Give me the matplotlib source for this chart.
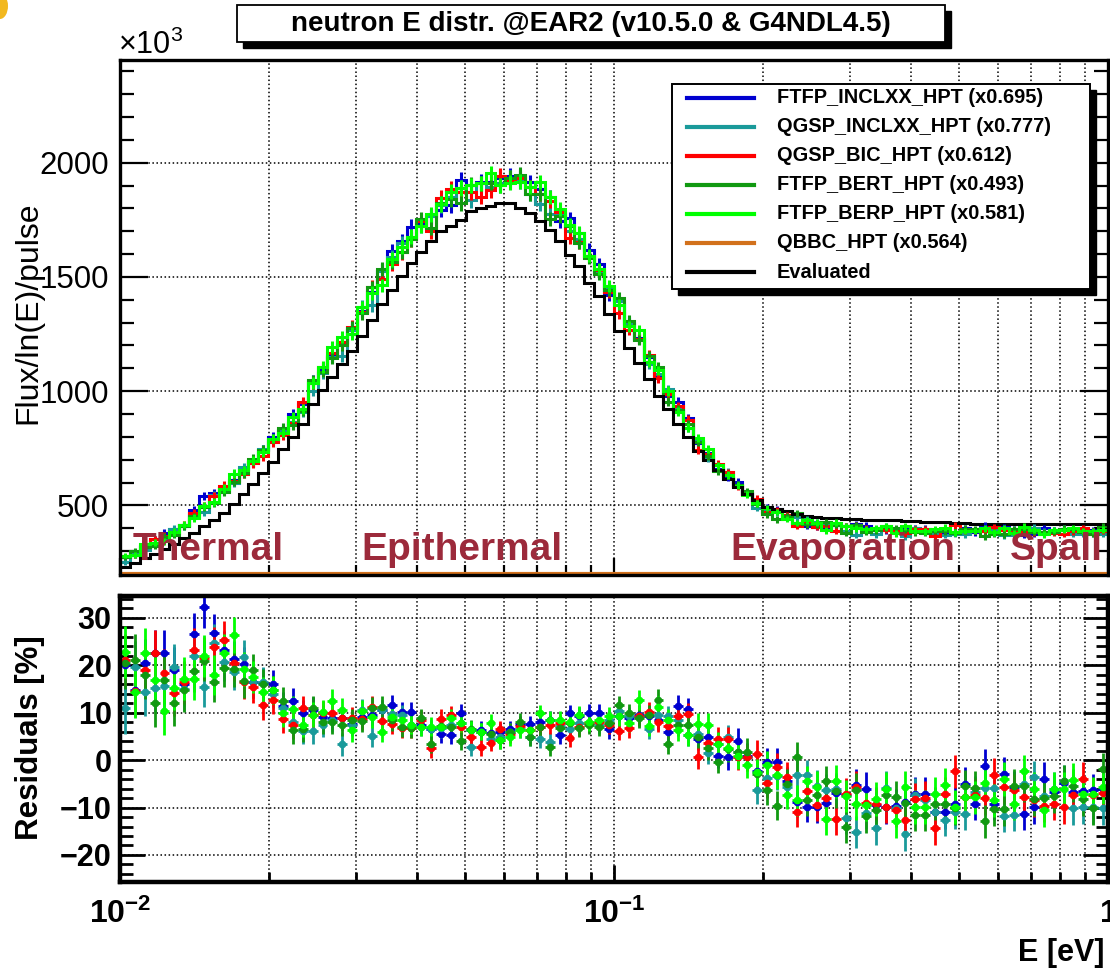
import numpy as np
import matplotlib
matplotlib.use('Agg')
import matplotlib.pyplot as plt
from matplotlib.lines import Line2D
from matplotlib.patches import Rectangle, Ellipse
from matplotlib.ticker import FixedLocator, MultipleLocator, NullFormatter

plt.rcParams['font.family'] = ['Liberation Sans', 'DejaVu Sans']
plt.rcParams['mathtext.fontset'] = 'custom'
plt.rcParams['mathtext.rm'] = 'Liberation Sans'
plt.rcParams['mathtext.bf'] = 'Liberation Sans:bold'
plt.rcParams['mathtext.it'] = 'Liberation Sans:italic'

# ---- data (flux in units of 10^3, residuals in %) ----
edges = np.logspace(-2, 0, 101)

evaluated = [228, 248, 268, 288, 310, 332, 355, 380, 408, 437,
             468, 505, 548, 592, 640, 690, 745, 800, 858, 945,
             1005, 1060, 1118, 1178, 1240, 1310, 1380, 1445, 1505, 1560,
             1610, 1658, 1700, 1722, 1751, 1787, 1802, 1812, 1824, 1824,
             1802, 1780, 1744, 1707, 1656, 1598, 1547, 1474, 1416, 1336,
             1263, 1190, 1125, 1052, 980, 922, 856, 798, 740, 697,
             653, 617, 580, 551, 522, 493, 486, 475, 462, 455,
             450, 446, 443, 441, 439, 437, 436, 435, 434, 433,
             431, 429, 427, 425, 423, 421, 420, 419, 418, 417,
             417, 417, 417, 417, 417, 417, 417, 417, 417, 417]

qbbc_flux = [0.0] * 100  # QBBC histogram sits at zero (below the visible range)

res_err = [5.5, 5.5, 5.2, 5.0, 5.0, 4.8, 4.6, 4.5, 4.4, 4.2,
           4.0, 3.8, 3.6, 3.4, 3.2, 3.0, 2.9, 2.8, 2.7, 2.6,
           2.5, 2.5, 2.4, 2.4, 2.3, 2.3, 2.2, 2.2, 2.1, 2.1,
           2.0, 2.0, 2.0, 1.9, 1.9, 1.9, 1.8, 1.8, 1.8, 1.8,
           1.8, 1.8, 1.8, 1.8, 1.8, 1.8, 1.9, 1.9, 1.9, 2.0,
           2.0, 2.0, 2.1, 2.1, 2.2, 2.2, 2.3, 2.3, 2.4, 2.5,
           2.5, 2.6, 2.7, 2.8, 2.9, 3.0, 3.0, 3.1, 3.2, 3.2,
           3.3, 3.3, 3.4, 3.4, 3.4, 3.5, 3.5, 3.5, 3.5, 3.5,
           3.5, 3.5, 3.5, 3.5, 3.5, 3.5, 3.5, 3.5, 3.5, 3.5,
           3.5, 3.5, 3.5, 3.5, 3.5, 3.5, 3.5, 3.5, 3.5, 3.5]

res_ftfp_inclxx = [20.0, 14.8, 20.4, 22.5, 22.5, 19.0, 16.0, 26.5, 32.3, 26.7,
                   23.3, 21.4, 20.2, 16.4, 16.2, 16.0, 11.5, 12.5, 10.0, 10.6,
                   9.1, 8.8, 8.8, 7.7, 9.0, 9.5, 10.5, 11.6, 10.2, 10.2,
                   7.5, 6.5, 5.6, 5.3, 10.0, 6.4, 6.4, 5.8, 6.0, 6.5,
                   7.6, 7.6, 8.1, 8.5, 5.3, 9.9, 9.3, 9.9, 9.9, 6.5,
                   9.2, 8.8, 9.5, 9.3, 8.5, 6.0, 11.4, 10.7, 4.5, 4.8,
                   0.9, 0.6, 4.1, 0.9, -2.2, -0.5, -0.5, -4.5, -8.9, -9.9,
                   -9.9, -9.0, -7.0, -7.3, -5.2, -6.0, -9.5, -9.9, -9.6, -8.9,
                   -7.1, -7.1, -11.0, -11.0, -9.2, -5.0, -9.2, -1.2, -9.2, -2.9,
                   -5.7, -11.3, -9.9, -4.0, -6.8, -4.8, -6.8, -6.6, -6.4, -6.1]

res_qgsp_inclxx = [11.0, 19.7, 14.4, 15.1, 15.7, 19.7, 15.0, 22.0, 15.5, 24.6,
                   20.7, 18.5, 21.8, 16.4, 16.4, 14.0, 10.9, 8.1, 6.1, 6.1,
                   7.4, 8.5, 3.3, 7.5, 10.5, 5.1, 10.5, 9.8, 9.5, 7.5,
                   7.0, 6.5, 6.7, 7.5, 7.9, 2.8, 6.0, 4.4, 4.8, 6.0,
                   6.5, 4.8, 4.4, 3.9, 7.1, 6.5, 7.8, 7.9, 7.4, 8.5,
                   10.4, 9.2, 9.2, 6.5, 9.5, 9.3, 8.5, 5.3, 5.5, 1.6,
                   3.4, 4.9, 1.8, 0.6, -6.3, -3.8, -3.3, -5.7, -3.1, -3.1,
                   -5.4, -6.2, -6.1, -12.2, -15.2, -11.1, -14.3, -5.9, -10.0, -15.6,
                   -7.3, -8.5, -11.0, -12.6, -11.0, -11.3, -6.8, -5.9, -5.9, -11.7,
                   -11.5, -5.0, -3.6, -7.6, -6.1, -4.5, -10.1, -9.9, -9.9, -10.1]

res_qgsp_bic = [21.1, 14.5, 19.0, 22.5, 18.4, 14.1, 16.4, 23.3, 21.5, 23.8,
                25.4, 20.4, 16.5, 15.5, 11.6, 12.7, 8.7, 7.3, 10.9, 9.5,
                9.9, 9.9, 8.8, 8.9, 8.7, 11.3, 8.2, 7.7, 6.8, 6.8,
                8.5, 2.5, 8.7, 9.5, 7.0, 4.8, 2.7, 3.7, 6.5, 5.5,
                7.2, 6.4, 6.9, 7.4, 7.8, 4.6, 6.9, 7.9, 8.1, 7.4,
                6.2, 6.7, 9.2, 10.2, 8.1, 7.1, 9.2, 9.7, 0.6, 3.7,
                4.4, 4.4, 0.6, 0.6, 1.3, -4.9, -1.4, -3.6, -11.0, -6.5,
                -9.5, -8.0, -12.4, -7.2, -5.7, -9.0, -9.2, -9.8, -10.6, -12.6,
                -8.3, -8.0, -14.3, -7.1, -2.4, -7.8, -7.3, -8.0, -3.1, -5.7,
                -6.4, -7.8, -8.5, -9.6, -9.2, -9.9, -7.3, -4.0, -7.3, -6.9]

res_ftfp_bert = [20.4, 21.1, 18.0, 12.0, 16.9, 12.0, 14.8, 18.8, 21.0, 16.5,
                 19.5, 19.2, 16.7, 19.0, 16.0, 14.8, 12.5, 6.3, 6.5, 10.9,
                 8.0, 8.0, 7.4, 8.4, 8.2, 11.0, 11.3, 8.4, 7.0, 6.8,
                 8.8, 3.5, 7.2, 6.9, 4.1, 6.5, 6.0, 5.5, 4.2, 6.0,
                 8.1, 4.8, 6.9, 2.7, 6.7, 7.8, 6.7, 7.4, 6.9, 7.9,
                 11.6, 9.9, 8.8, 9.5, 12.7, 3.5, 7.4, 7.4, 4.9, 2.5,
                 -0.3, 2.3, 1.8, 1.8, -2.9, -6.4, -9.6, -5.0, 0.6, -8.5,
                 -7.3, -4.5, -6.6, -14.0, -6.2, -11.8, -10.5, -7.3, -7.8, -9.0,
                 -11.5, -11.5, -9.2, -9.2, -10.1, -5.5, -5.9, -12.9, -10.3, -10.4,
                 -5.4, -5.4, -8.2, -8.0, -7.6, -4.5, -5.4, -8.2, -10.1, -1.9]

res_ftfp_berp = [22.8, 14.4, 22.6, 16.9, 10.3, 15.3, 17.2, 17.2, 22.0, 18.0,
                 22.5, 26.3, 19.2, 17.6, 14.4, 14.8, 9.9, 10.8, 7.5, 9.6,
                 10.1, 12.5, 10.6, 6.3, 10.3, 9.1, 6.0, 9.1, 8.4, 7.5,
                 7.0, 7.0, 7.0, 8.8, 7.9, 6.4, 6.0, 7.9, 4.2, 4.8,
                 6.4, 6.4, 9.9, 8.5, 8.5, 8.1, 9.5, 8.1, 8.5, 9.2,
                 9.2, 7.9, 12.7, 7.1, 11.3, 8.5, 6.4, 5.3, 7.6, 7.4,
                 3.4, 2.5, 0.9, -1.0, -2.6, -1.0, -3.1, -7.3, -8.5, -4.5,
                 -5.7, -12.4, -4.5, -7.6, -9.2, -9.4, -8.2, -6.1, -12.9, -5.7,
                 -9.9, -9.9, -7.1, -5.2, -9.9, -7.8, -7.8, -4.8, -8.5, -4.0,
                 -9.2, -2.4, -6.1, -10.6, -6.1, -6.1, -4.1, -7.1, -7.1, -5.7]

model_names = ['FTFP_INCLXX_HPT (x0.695)', 'QGSP_INCLXX_HPT (x0.777)', 'QGSP_BIC_HPT (x0.612)',
               'FTFP_BERT_HPT (x0.493)', 'FTFP_BERP_HPT (x0.581)', 'QBBC_HPT (x0.564)', 'Evaluated']
model_colors = ['#0000d0', '#1a9a9a', '#ff0000', '#119911', '#00ff00', '#d2711c', '#000000']
residuals = [res_ftfp_inclxx, res_qgsp_inclxx, res_qgsp_bic, res_ftfp_bert, res_ftfp_berp]

regions = ['Thermal', 'Epithermal', 'Evaporation', 'Spall']
region_x = [0.0106, 0.0308, 0.172, 0.634]

# ---- figure ----
W, H = 1110, 971
fig = plt.figure(figsize=(W / 100, H / 100), dpi=100)
ax1 = fig.add_axes([120 / W, 1 - 575 / H, 988 / W, 515 / H])
ax2 = fig.add_axes([120 / W, 1 - 882 / H, 988 / W, 286 / H])

ev = np.array(evaluated)
err = np.array(res_err)
centers = np.sqrt(edges[:-1] * edges[1:])
xlo = centers - edges[:-1]
xhi = edges[1:] - centers
ymin1, ymax1 = 195, 2450

for res, col in zip(residuals, model_colors[:5]):
    r = np.array(res)
    flux = ev * (1 + r / 100)
    ax1.stairs(flux, edges, color=col, lw=2.2, baseline=None)
    ax1.errorbar(centers, flux, yerr=ev * err / 100, fmt='none', ecolor=col, elinewidth=2.2)
    ax2.errorbar(centers, r, xerr=[xlo, xhi], yerr=err, fmt='o', ms=4.5, color=col,
                 mec=col, elinewidth=2.0, capsize=0)

ax1.stairs(np.clip(qbbc_flux, ymin1 + 4, None), edges, color=model_colors[5], lw=3, baseline=None)
ax1.stairs(ev, edges, color='k', lw=2.2, baseline=None)

# ---- axes styling ----
for ax in (ax1, ax2):
    ax.set_xscale('log')
    ax.set_xlim(0.01, 1)
    ax.xaxis.set_major_locator(FixedLocator([0.01, 0.1, 1]))
    ax.xaxis.set_minor_locator(FixedLocator([m * d for d in (0.01, 0.1) for m in range(2, 10)]))
    ax.xaxis.set_minor_formatter(NullFormatter())
    ax.grid(True, which='both', axis='x', ls=':', color='k', lw=1.1)
    ax.grid(True, which='major', axis='y', ls=':', color='k', lw=1.1)
    ax.set_axisbelow(True)
    ax.tick_params(which='both', direction='in', right=True, top=False, colors='k')

ax1.set_ylim(ymin1, ymax1)
ax1.yaxis.set_major_locator(MultipleLocator(500))
ax1.yaxis.set_minor_locator(MultipleLocator(100))
ax1.set_xticklabels([])
ax1.tick_params(axis='y', which='major', length=20, width=1.6, labelsize=22.5, pad=8)
ax1.tick_params(axis='y', which='minor', length=10, width=1.6)
ax1.tick_params(axis='x', which='major', length=12, width=1.6)
ax1.tick_params(axis='x', which='minor', length=7, width=1.6)
for s in ax1.spines.values():
    s.set_linewidth(2.4)

ax2.set_ylim(-25.7, 34.6)
ax2.yaxis.set_major_locator(MultipleLocator(10))
ax2.yaxis.set_minor_locator(MultipleLocator(2))
ax2.set_yticks([-20, -10, 0, 10, 20, 30])
ax2.set_yticklabels(['\u221220', '\u221210', '0', '10', '20', '30'], fontweight='bold', fontsize=22)
ax2.set_xticklabels([r'$\mathbf{10^{-2}}$', r'$\mathbf{10^{-1}}$', r'$\mathbf{1}$'], fontsize=23)
ax2.tick_params(axis='y', which='major', length=18, width=2.0, pad=6)
ax2.tick_params(axis='y', which='minor', length=9, width=2.0)
ax2.tick_params(axis='x', which='major', length=12, width=2.0, pad=12)
ax2.tick_params(axis='x', which='minor', length=7, width=2.0)
for s in ax2.spines.values():
    s.set_linewidth(3.2)

# ---- labels ----
fig.text(28 / W, 1 - 313 / H, 'Flux/ln(E)/pulse', rotation=90, ha='center', va='center', fontsize=23)
fig.text(118 / W, 1 - 45 / H, r'$\times10^{3}$', ha='left', va='center', fontsize=22)
fig.text(30 / W, 1 - 738 / H, 'Residuals [%]', rotation=90, ha='center', va='center',
         fontsize=22.5, fontweight='bold')
fig.text(1105 / W, 1 - 953 / H, 'E [eV]', ha='right', va='center', fontsize=22, fontweight='bold')

for lab, xr in zip(regions, region_x):
    ax1.text(xr, 260, lab, ha='left', va='baseline', fontsize=28, fontweight='bold',
             color='#9c2a3b', clip_on=False, zorder=5)

# small yellow mark in the top-left corner
fig.add_artist(Ellipse((0, 1 - 6 / H), 16 / W, 26 / H, transform=fig.transFigure,
                       facecolor='#f2b81f', edgecolor='none'))

# title box with shadow
fig.add_artist(Rectangle((243 / W, 1 - 48 / H), 708 / W, 37 / H, transform=fig.transFigure,
                         facecolor='k', edgecolor='k', zorder=1))
fig.add_artist(Rectangle((237 / W, 1 - 42 / H), 708 / W, 37 / H, transform=fig.transFigure,
                         facecolor='white', edgecolor='k', lw=1.3, zorder=2))
fig.text(591 / W, 1 - 24 / H, 'neutron E distr. @EAR2 (v10.5.0 & G4NDL4.5)', ha='center', va='center',
         fontsize=20, fontweight='bold', zorder=3)

# legend box (ROOT style, drawn in figure pixels) with solid shadow
lx0, ly0, lx1, ly1 = 672, 84, 1090, 289
fig.add_artist(Rectangle(((lx0 + 6) / W, 1 - (ly1 + 6) / H), (lx1 - lx0) / W, (ly1 - ly0) / H,
                         transform=fig.transFigure, facecolor='k', edgecolor='k', zorder=20))
fig.add_artist(Rectangle((lx0 / W, 1 - ly1 / H), (lx1 - lx0) / W, (ly1 - ly0) / H,
                         transform=fig.transFigure, facecolor='white', edgecolor='k', lw=1.4, zorder=21))
for i, (nm, col) in enumerate(zip(model_names, model_colors)):
    yy = 1 - (97.7 + 29.05 * i) / H
    fig.add_artist(Line2D([687 / W, 754 / W], [yy, yy], transform=fig.transFigure, color=col, lw=3,
                          zorder=22))
    fig.text(777 / W, yy, nm, ha='left', va='center', fontsize=14.4, fontweight='bold', zorder=22)

fig.savefig('out.png', dpi=100)
